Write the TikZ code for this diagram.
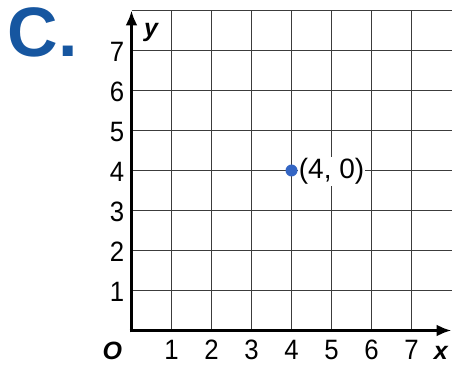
\documentclass[tikz,border=0pt]{standalone}
\usepackage{fontspec}
\setmainfont{Liberation Sans}
\newfontfamily\narrowfont[FakeStretch=0.92]{Liberation Sans}
\usetikzlibrary{arrows.meta}

\definecolor{letterblue}{RGB}{22,86,160}
\definecolor{dotblue}{RGB}{52,102,196}
\definecolor{gridgray}{RGB}{60,60,60}

\tikzset{
  gridline/.style={gridgray, line width=1.2pt},
  axisline/.style={line width=3.6pt, -{Latex[length=15pt,width=12pt]}},
  ticklabel/.style={font=\narrowfont\fontsize{28}{28}\selectfont, inner sep=0pt, anchor=base},
  axislabel/.style={font=\fontsize{25}{25}\selectfont\bfseries\itshape, inner sep=0pt, anchor=base}
}

\begin{document}
\begin{tikzpicture}[x=40pt, y=40pt]
\useasboundingbox (-3.2875,-0.8375) rectangle (8.0125,8.2625);

% Grid
\foreach \k in {1,...,8}
  \draw[gridline] (0,\k) -- (8,\k);
\foreach \k in {1,...,7}
  \draw[gridline] (\k,0) -- (\k,8);

% Axes
\coordinate (origin) at (0,0);
\coordinate (xend) at (8,0);
\coordinate (yend) at (0,8);
\draw[axisline] ([xshift=-1.8pt]origin) -- (xend);
\draw[axisline] ([yshift=-1.8pt]origin) -- (yend);

% Tick labels
\foreach \k in {1,...,7} {
  \node[ticklabel] (xt\k) at (\k,-0.73) {\k};
  \node[ticklabel] (yt\k) at (-0.36,\k-0.28) {\k};
}
\node[axislabel] (olabel) at (-0.48,-0.73) {O};
\node[axislabel] (xlabel) at (7.73,-0.73) {x};
\node[axislabel] (ylabel) at (0.49,7.36) {y};

% Point
\node[circle, fill=dotblue, inner sep=0pt, minimum size=12pt] (pt) at (4,4) {};
\node[font=\fontsize{28}{28}\selectfont, fill=white, anchor=west, inner xsep=0.5pt, inner ysep=1pt] (ptlabel) at ([xshift=0.5pt,yshift=-1pt]pt.east) {(4, 0)};

% Letter
\node[font=\fontsize{70}{70}\selectfont\bfseries, text=letterblue, inner sep=0pt] (letter) at (-2.22,7.45) {C.};
\end{tikzpicture}
\end{document}
